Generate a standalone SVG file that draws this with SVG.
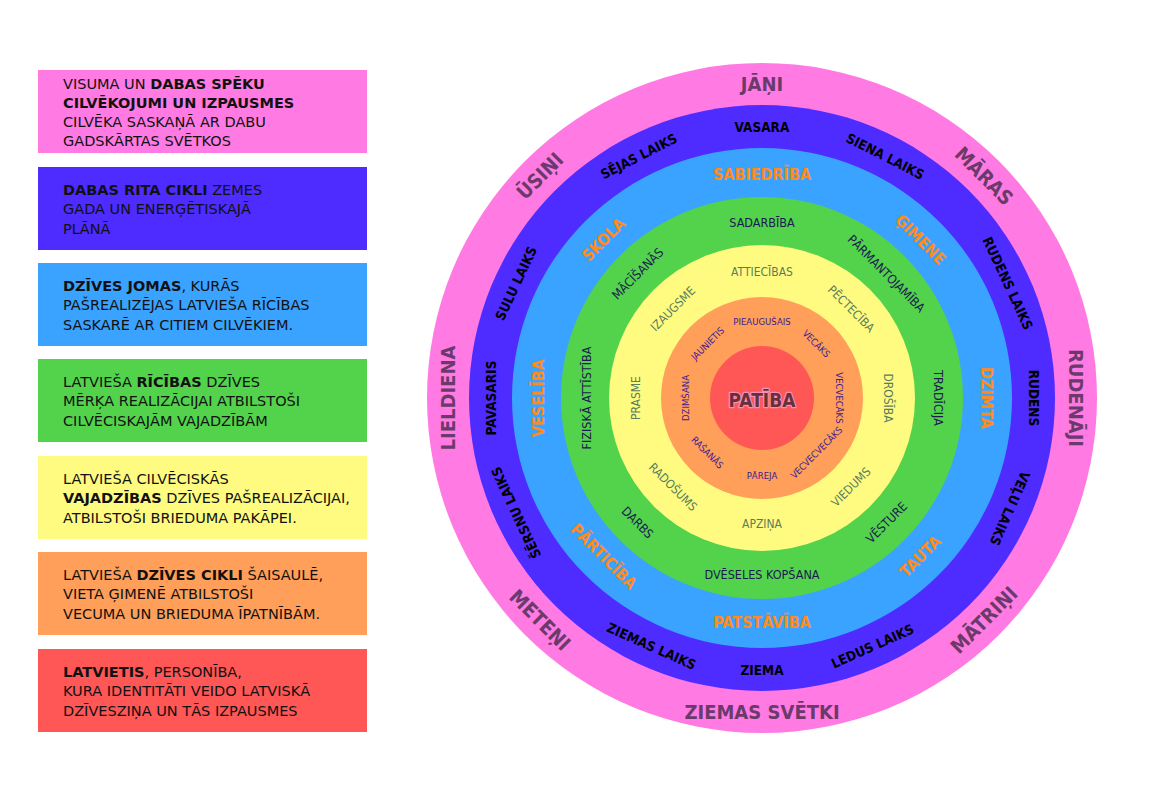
<svg xmlns="http://www.w3.org/2000/svg" width="1172" height="803" viewBox="0 0 1172 803">
<style>
.lg{font-family:"DejaVu Sans",Verdana,sans-serif;font-size:14.5px;fill:#111}
.b{font-weight:bold}
.t{font-family:"DejaVu Sans Condensed","DejaVu Sans",sans-serif;font-stretch:condensed;text-anchor:middle;dominant-baseline:central}
.p{font-size:20px;font-weight:bold;fill:#6b3a6b}
.i{font-size:13.5px;font-weight:bold;fill:#000}
.s{font-size:16px;font-weight:bold;fill:#ff8c1a}
.g{font-size:12.5px;fill:#1b1b4f}
.y{font-size:12px;fill:#5a7d5e}
.o{font-size:9.5px;fill:#3b1d8f}
.c{font-size:19px;font-weight:bold;fill:#6b2f3a;stroke:#f590b4;stroke-width:2.5px;paint-order:stroke;stroke-linejoin:round}
</style>
<rect width="1172" height="803" fill="#fff"/>
<g id="legend">
<g id="legend-pink"><rect x="38" y="70" width="329" height="83" fill="#ff7be3"/>
<text class="lg" x="63" y="88.5">VISUMA UN <tspan class="b">DABAS SPĒKU</tspan></text>
<text class="lg b" x="63" y="107.8">CILVĒKOJUMI UN IZPAUSMES</text>
<text class="lg" x="63" y="127">CILVĒKA SASKAŅĀ AR DABU</text>
<text class="lg" x="63" y="146.3">GADSKĀRTAS SVĒTKOS</text></g>
<g id="legend-indigo"><rect x="38" y="167" width="329" height="83" fill="#4e2bff"/>
<text class="lg" x="63" y="194.5"><tspan class="b">DABAS RITA CIKLI</tspan> ZEMES</text>
<text class="lg" x="63" y="214">GADA UN ENERĢĒTISKAJĀ</text>
<text class="lg" x="63" y="233.5">PLĀNĀ</text></g>
<g id="legend-blue"><rect x="38" y="263" width="329" height="83" fill="#3aa3ff"/>
<text class="lg" x="63" y="290.5"><tspan class="b">DZĪVES JOMAS</tspan>, KURĀS</text>
<text class="lg" x="63" y="310">PAŠREALIZĒJAS LATVIEŠA RĪCĪBAS</text>
<text class="lg" x="63" y="329.5">SASKARĒ AR CITIEM CILVĒKIEM.</text></g>
<g id="legend-green"><rect x="38" y="359" width="329" height="83" fill="#52d34b"/>
<text class="lg" x="63" y="386.5">LATVIEŠA <tspan class="b">RĪCĪBAS</tspan> DZĪVES</text>
<text class="lg" x="63" y="406">MĒRĶA REALIZĀCIJAI ATBILSTOŠI</text>
<text class="lg" x="63" y="425.5">CILVĒCISKAJĀM VAJADZĪBĀM</text></g>
<g id="legend-yellow"><rect x="38" y="456" width="329" height="83" fill="#fffb80"/>
<text class="lg" x="63" y="483.5">LATVIEŠA CILVĒCISKĀS</text>
<text class="lg" x="63" y="503"><tspan class="b">VAJADZĪBAS</tspan> DZĪVES PAŠREALIZĀCIJAI,</text>
<text class="lg" x="63" y="522.5">ATBILSTOŠI BRIEDUMA PAKĀPEI.</text></g>
<g id="legend-orange"><rect x="38" y="552" width="329" height="83" fill="#ff9f59"/>
<text class="lg" x="63" y="579.5">LATVIEŠA <tspan class="b">DZĪVES CIKLI</tspan> ŠAISAULĒ,</text>
<text class="lg" x="63" y="599">VIETA ĢIMENĒ ATBILSTOŠI</text>
<text class="lg" x="63" y="618.5">VECUMA UN BRIEDUMA ĪPATNĪBĀM.</text></g>
<g id="legend-red"><rect x="38" y="649" width="329" height="83" fill="#ff5656"/>
<text class="lg" x="63" y="676.5"><tspan class="b">LATVIETIS</tspan>, PERSONĪBA,</text>
<text class="lg" x="63" y="696">KURA IDENTITĀTI VEIDO LATVISKĀ</text>
<text class="lg" x="63" y="715.5">DZĪVESZIŅA UN TĀS IZPAUSMES</text></g>
</g>
<g id="ring-pink">
<circle cx="762" cy="398" r="335" fill="#ff7be3"/>
<text class="t p" x="762" y="84">JĀŅI</text>
<text class="t p" x="762" y="84" transform="rotate(45 762 398)">MĀRAS</text>
<text class="t p" x="762" y="84" transform="rotate(90 762 398)">RUDENĀJI</text>
<text class="t p" x="762" y="712" transform="rotate(-45 762 398)">MĀTRIŅI</text>
<text class="t p" x="762" y="712">ZIEMAS SVĒTKI</text>
<text class="t p" x="762" y="712" transform="rotate(45 762 398)">METEŅI</text>
<text class="t p" x="762" y="84" transform="rotate(-90 762 398)">LIELDIENA</text>
<text class="t p" x="762" y="84" transform="rotate(-45 762 398)">ŪSIŅI</text>
</g>
<g id="ring-indigo">
<circle cx="762" cy="398" r="293" fill="#4e2bff"/>
<text class="t i" x="762" y="126.5">VASARA</text>
<text class="t i" x="762" y="126.5" transform="rotate(27 762 398)">SIENA LAIKS</text>
<text class="t i" x="762" y="126.5" transform="rotate(65 762 398)">RUDENS LAIKS</text>
<text class="t i" x="762" y="126.5" transform="rotate(90 762 398)">RUDENS</text>
<text class="t i" x="762" y="126.5" transform="rotate(114 762 398)">VEĻU LAIKS</text>
<text class="t i" x="762" y="669.5" transform="rotate(-24 762 398)">LEDUS LAIKS</text>
<text class="t i" x="762" y="669.5">ZIEMA</text>
<text class="t i" x="762" y="669.5" transform="rotate(24 762 398)">ZIEMAS LAIKS</text>
<text class="t i" x="762" y="126.5" transform="rotate(-115 762 398)">ŠĒRSNU LAIKS</text>
<text class="t i" x="762" y="126.5" transform="rotate(-90 762 398)">PAVASARIS</text>
<text class="t i" x="762" y="126.5" transform="rotate(-65 762 398)">SULU LAIKS</text>
<text class="t i" x="762" y="126.5" transform="rotate(-27 762 398)">SĒJAS LAIKS</text>
</g>
<g id="ring-blue">
<circle cx="762" cy="398" r="250" fill="#3aa3ff"/>
<text class="t s" x="762" y="174">SABIEDRĪBA</text>
<text class="t s" x="762" y="174" transform="rotate(45 762 398)">ĢIMENE</text>
<text class="t s" x="762" y="174" transform="rotate(90 762 398)">DZIMTA</text>
<text class="t s" x="762" y="622" transform="rotate(-45 762 398)">TAUTA</text>
<text class="t s" x="762" y="622">PATSTĀVĪBA</text>
<text class="t s" x="762" y="622" transform="rotate(45 762 398)">PĀRTICĪBA</text>
<text class="t s" x="762" y="174" transform="rotate(-90 762 398)">VESELĪBA</text>
<text class="t s" x="762" y="174" transform="rotate(-45 762 398)">SKOLA</text>
</g>
<g id="ring-green">
<circle cx="762" cy="398" r="201" fill="#52d34b"/>
<text class="t g" x="762" y="222">SADARBĪBA</text>
<text class="t g" x="762" y="222" transform="rotate(45 762 398)">PĀRMANTOJAMĪBA</text>
<text class="t g" x="762" y="222" transform="rotate(90 762 398)">TRADĪCIJA</text>
<text class="t g" x="762" y="574" transform="rotate(-45 762 398)">VĒSTURE</text>
<text class="t g" x="762" y="574">DVĒSELES KOPŠANA</text>
<text class="t g" x="762" y="574" transform="rotate(45 762 398)">DARBS</text>
<text class="t g" x="762" y="222" transform="rotate(-90 762 398)">FIZISKĀ ATTĪSTĪBA</text>
<text class="t g" x="762" y="222" transform="rotate(-45 762 398)">MĀCĪŠANĀS</text>
</g>
<g id="ring-yellow">
<circle cx="762" cy="398" r="153" fill="#fffb80"/>
<text class="t y" x="762" y="272">ATTIECĪBAS</text>
<text class="t y" x="762" y="272" transform="rotate(45 762 398)">PĒCTECĪBA</text>
<text class="t y" x="762" y="272" transform="rotate(90 762 398)">DROŠĪBA</text>
<text class="t y" x="762" y="524" transform="rotate(-45 762 398)">VIEDUMS</text>
<text class="t y" x="762" y="524">APZIŅA</text>
<text class="t y" x="762" y="524" transform="rotate(45 762 398)">RADOŠUMS</text>
<text class="t y" x="762" y="272" transform="rotate(-90 762 398)">PRASME</text>
<text class="t y" x="762" y="272" transform="rotate(-45 762 398)">IZAUGSME</text>
</g>
<g id="ring-orange">
<circle cx="762" cy="398" r="101" fill="#ff9f59"/>
<text class="t o" x="762" y="321">PIEAUGUŠAIS</text>
<text class="t o" x="762" y="321" transform="rotate(45 762 398)">VECĀKS</text>
<text class="t o" x="762" y="321" transform="rotate(90 762 398)">VECVECĀKS</text>
<text class="t o" x="762" y="475" transform="rotate(-45 762 398)">VECVECVECĀKS</text>
<text class="t o" x="762" y="475">PĀREJA</text>
<text class="t o" x="762" y="475" transform="rotate(45 762 398)">RAŠANĀS</text>
<text class="t o" x="762" y="321" transform="rotate(-90 762 398)">DZIMŠANA</text>
<text class="t o" x="762" y="321" transform="rotate(-45 762 398)">JAUNIETIS</text>
</g>
<g id="core">
<circle cx="762" cy="398" r="52" fill="#ff5656"/>
<text class="t c" x="762" y="400">PATĪBA</text>
</g>
<g id="connectors"/>
</svg>
